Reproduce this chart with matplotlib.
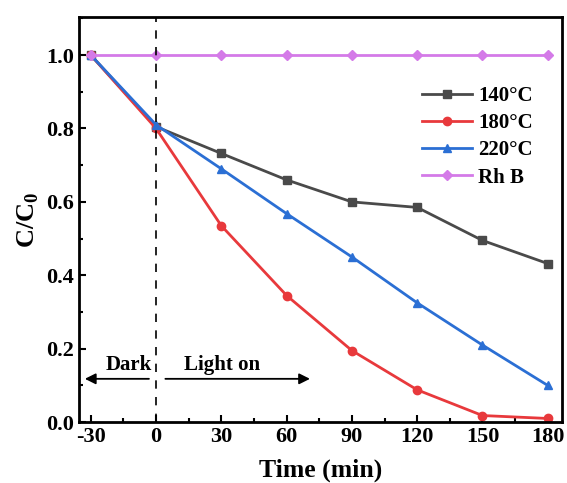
import matplotlib.pyplot as plt
from matplotlib.ticker import MultipleLocator

# data
time = [-30, 0, 30, 60, 90, 120, 150, 180]
c140 = [1.0, 0.805, 0.732, 0.660, 0.600, 0.585, 0.495, 0.432]
c180 = [1.0, 0.800, 0.535, 0.345, 0.195, 0.088, 0.018, 0.010]
c220 = [1.0, 0.810, 0.690, 0.568, 0.450, 0.325, 0.210, 0.100]
rhb = [1.0, 1.0, 1.0, 1.0, 1.0, 1.0, 1.0, 1.0]

plt.rcParams['font.family'] = ['Liberation Serif', 'DejaVu Serif']
plt.rcParams['font.weight'] = 'bold'
plt.rcParams['mathtext.fontset'] = 'custom'
plt.rcParams['mathtext.rm'] = 'Liberation Serif:bold'
plt.rcParams['mathtext.bf'] = 'Liberation Serif:bold'

fig = plt.figure(figsize=(5.67, 4.83), dpi=100)
ax = fig.add_axes([0.139, 0.126, 0.852, 0.839])

ax.plot(time, c140, color='#4a4a4a', marker='s', ms=6, lw=2, label='140°C')
ax.plot(time, c180, color='#e8393c', marker='o', ms=6, lw=2, label='180°C')
ax.plot(time, c220, color='#2b6fd4', marker='^', ms=6, lw=2, label='220°C')
ax.plot(time, rhb, color='#d47ae8', marker='D', ms=5, lw=2, label='Rh B')

ax.axvline(0, color='black', ls=(0, (5, 5)), lw=1.2)

# dark / light annotations
ax.annotate('', xy=(-34, 0.118), xytext=(-2, 0.118),
            arrowprops=dict(arrowstyle='-|>', color='black', lw=1.3,
                            mutation_scale=16))
ax.annotate('', xy=(72, 0.118), xytext=(3, 0.118),
            arrowprops=dict(arrowstyle='-|>', color='black', lw=1.3,
                            mutation_scale=16))
ax.text(-12.5, 0.155, 'Dark', ha='center', va='center', fontsize=15, fontweight='bold')
ax.text(30.5, 0.155, 'Light on', ha='center', va='center', fontsize=15, fontweight='bold')

ax.set_xlim(-35.5, 186.5)
ax.set_ylim(0, 1.104)
ax.set_xticks(time)
ax.set_xticklabels([str(t) for t in time])
ax.xaxis.set_minor_locator(MultipleLocator(15))
ax.yaxis.set_major_locator(MultipleLocator(0.2))
ax.yaxis.set_minor_locator(MultipleLocator(0.1))
ax.yaxis.set_major_formatter(plt.FuncFormatter(lambda v, p: f'{v:.1f}'))
ax.tick_params(which='both', direction='in', width=1.5, labelsize=16)
ax.tick_params(which='major', length=5)
ax.tick_params(which='minor', length=3)
for s in ax.spines.values():
    s.set_linewidth(2)

ax.set_xlabel('Time (min)', fontsize=18.5, fontweight='bold', labelpad=8)
ax.set_ylabel('C/C$_{0}$', fontsize=19, fontweight='bold', labelpad=4)

ax.legend(loc='upper left', bbox_to_anchor=(0.71, 0.83), frameon=False,
          borderpad=0, borderaxespad=0,
          fontsize=15, handlelength=2.4, labelspacing=0.35, handletextpad=0.3)

fig.savefig('out.png', dpi=100)
